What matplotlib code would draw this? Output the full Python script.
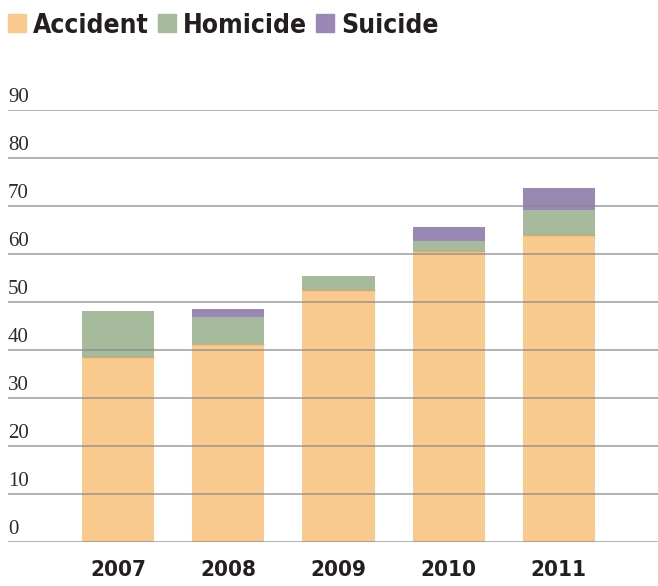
import numpy as np
import matplotlib
matplotlib.use("Agg")
import matplotlib.pyplot as plt
from matplotlib.patches import Rectangle
from matplotlib.transforms import blended_transform_factory

years = ["2007", "2008", "2009", "2010", "2011"]
accident = [38.5, 41.2, 52.5, 60.6, 63.9]
homicide = [9.6, 5.7, 2.9, 2.1, 5.3]
suicide = [0.0, 1.6, 0.0, 2.9, 4.6]
yticks = [0, 10, 20, 30, 40, 50, 60, 70, 80, 90]

series = ["Accident", "Homicide", "Suicide"]
colors = ["#F9C98D", "#A5BB9C", "#9A88B4"]

cond = dict(fontfamily="DejaVu Sans", fontstretch="condensed",
            fontweight="bold", color="#231f20")
serif = ["Liberation Serif", "DejaVu Serif"]

fig = plt.figure(figsize=(6.58, 5.86), dpi=100)
W, H = 658, 586
ax = fig.add_axes([8 / W, (H - 542) / H, 650 / W, (542 - 110) / H])

x = np.arange(len(years))
bottom = np.zeros(len(years))
for vals, c in zip([accident, homicide, suicide], colors):
    vals = np.array(vals)
    ax.bar(x, vals, width=0.655, bottom=bottom, color=c, zorder=2,
           edgecolor="none")
    bottom += vals

# thin darker seam where the accident segment meets the one above it
for xi, a, h in zip(x, accident, homicide):
    if h > 0:
        ax.plot([xi - 0.3275, xi + 0.3275], [a, a], color="#b89a6a",
                lw=1, alpha=0.6, zorder=2.5, solid_capstyle="butt")

ax.set_xlim(-1.0, 4.9)
ax.set_ylim(0, 90)
for s in ax.spines.values():
    s.set_visible(False)
ax.set_yticks([])
ax.set_xticks(x)
ax.set_xticklabels(years, fontsize=16, **cond)
ax.tick_params(axis="x", length=0, pad=13)

for v in yticks:
    ax.axhline(v, color="#888888", lw=1.3, alpha=0.7, zorder=3)

trans = blended_transform_factory(ax.transAxes, ax.transData)
for v in yticks:
    ax.text(0.0, v + 1.75, str(v), transform=trans, ha="left", va="baseline",
            fontfamily=serif, fontsize=15, color="#2b2b2b")

# legend across the top, laid out left to right
fig.canvas.draw()
renderer = fig.canvas.get_renderer()
lx = 8
for name, c in zip(series, colors):
    fig.patches.append(Rectangle((lx / W, (H - 32) / H), 18 / W, 18 / H,
                                 transform=fig.transFigure, color=c))
    t = fig.text((lx + 25) / W, (H - 33) / H, name, ha="left", va="baseline",
                 fontsize=19, **cond)
    bb = t.get_window_extent(renderer)
    lx = bb.x1 + 9

fig.savefig("out.png", dpi=100)
